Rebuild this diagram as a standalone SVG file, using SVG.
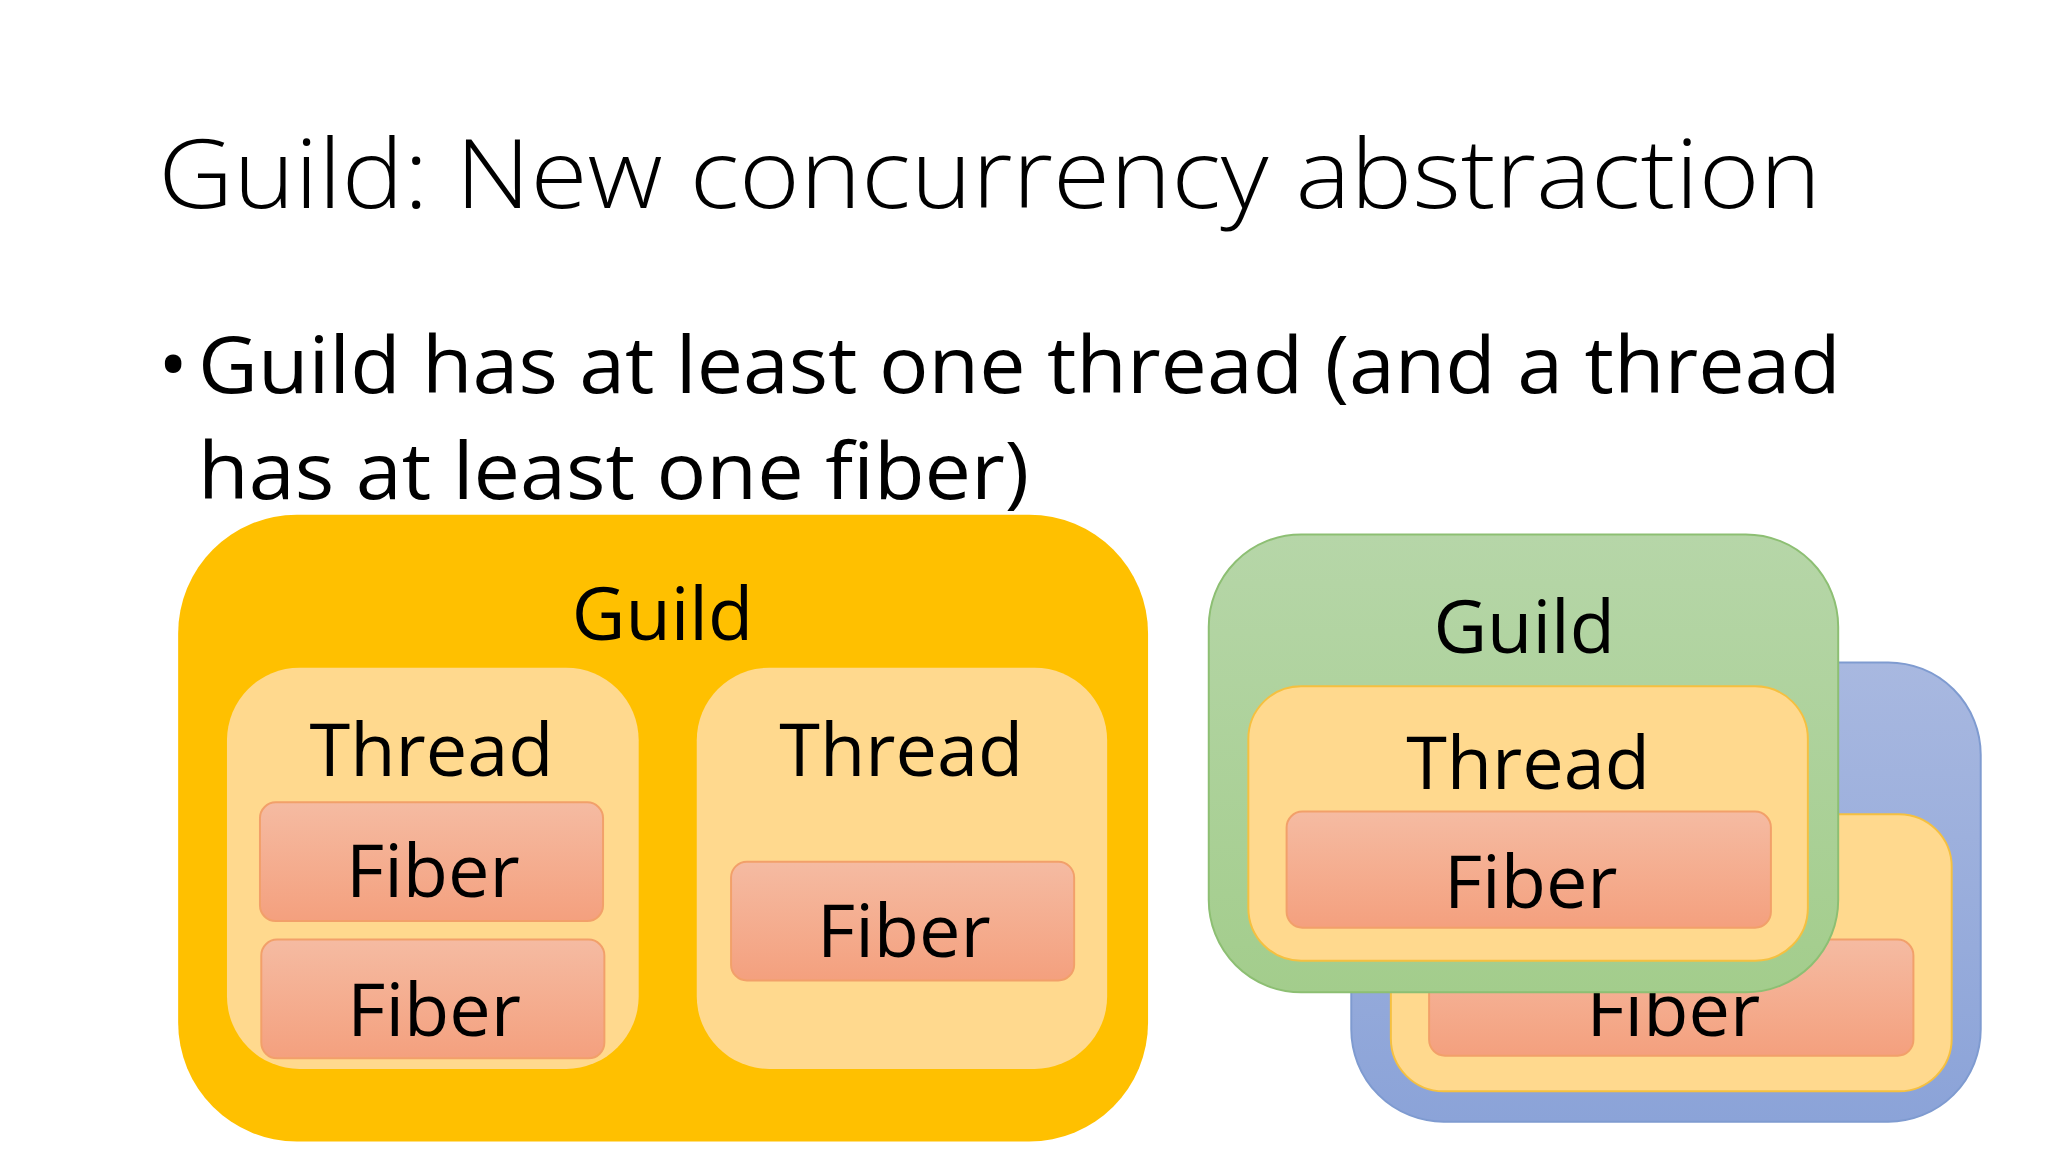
<svg xmlns="http://www.w3.org/2000/svg" width="2048" height="1152" viewBox="0 0 2048 1152">
<defs>
<style>
text{font-family:"Open Sans","Liberation Sans",sans-serif;fill:#000}
.lbl{font-size:56px;text-anchor:middle}
.thread{fill:#FFD98E}
.fiber{fill:url(#fg);stroke:#F2A06A;stroke-width:1.5}
</style>
<linearGradient id="fg" x1="0" y1="0" x2="0" y2="1"><stop offset="0" stop-color="#F5BBA2"/><stop offset="1" stop-color="#F4A07E"/></linearGradient>
<linearGradient id="gg" x1="0" y1="0" x2="0" y2="1"><stop offset="0" stop-color="#B6D6A8"/><stop offset="1" stop-color="#A3CD8C"/></linearGradient>
<linearGradient id="bg" x1="0" y1="0" x2="0" y2="1"><stop offset="0" stop-color="#A8B8E0"/><stop offset="1" stop-color="#8BA3D8"/></linearGradient>
</defs>
<rect width="2048" height="1152" fill="#fff"/>
<g transform="scale(1.3196)">
<text x="120" y="158" font-size="72" font-weight="300" textLength="1260" lengthAdjust="spacingAndGlyphs">Guild: New concurrency abstraction</text>
<text x="120" y="298" font-size="60">•</text>
<text x="150" y="298" font-size="60" textLength="1245" lengthAdjust="spacingAndGlyphs">Guild has at least one thread (and a thread</text>
<text x="150" y="378" font-size="60" textLength="630" lengthAdjust="spacingAndGlyphs">has at least one fiber)</text>
<g id="guild1">
<rect x="135" y="390" width="735" height="475" rx="90" fill="#FFC000"/>
<text class="lbl" x="502" y="485" font-size="60">Guild</text>
</g>
<g id="thread1">
<rect class="thread" x="172" y="506" width="312" height="304" rx="55"/>
<text class="lbl" x="327" y="588">Thread</text>
</g>
<g id="fiber1"><rect class="fiber" x="197" y="608" width="260" height="90" rx="12"/><text class="lbl" x="328" y="680">Fiber</text></g>
<g id="fiber2"><rect class="fiber" x="198" y="712" width="260" height="90" rx="12"/><text class="lbl" x="329" y="785">Fiber</text></g>
<g id="thread2">
<rect class="thread" x="528" y="506" width="311" height="304" rx="55"/>
<text class="lbl" x="683" y="588">Thread</text>
</g>
<g id="fiber3"><rect class="fiber" x="554" y="653" width="260" height="90" rx="12"/><text class="lbl" x="685" y="725">Fiber</text></g>
<g id="guild3">
<rect x="1024" y="502" width="477" height="348" rx="70" fill="url(#bg)" stroke="#7F9BD0" stroke-width="1.5"/>
<rect class="thread" x="1054" y="617" width="425" height="210" rx="40" stroke="#F5C040" stroke-width="1.5"/>
<rect class="fiber" x="1083" y="712" width="367" height="88" rx="12"/>
<text class="lbl" x="1268" y="785">Fiber</text>
</g>
<g id="guild2">
<rect x="916" y="405" width="477" height="347" rx="70" fill="url(#gg)" stroke="#8DBF73" stroke-width="1.5"/>
<text class="lbl" x="1155" y="495" font-size="60">Guild</text>
<rect class="thread" x="946" y="520" width="424" height="208" rx="40" stroke="#F5C040" stroke-width="1.5"/>
<text class="lbl" x="1158" y="598">Thread</text>
<rect class="fiber" x="975" y="615" width="367" height="88" rx="12"/>
<text class="lbl" x="1160" y="688">Fiber</text>
</g>
<g id="connectors"/>
</g>
</svg>
